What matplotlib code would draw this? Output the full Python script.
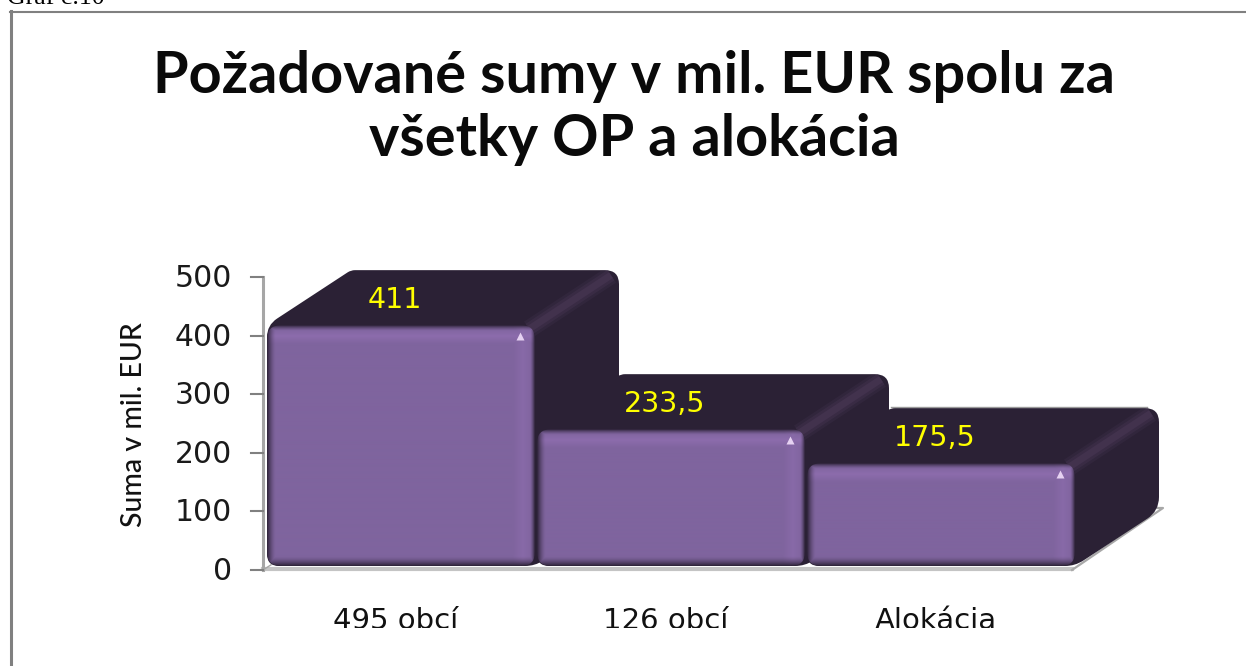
import numpy as np
import matplotlib
matplotlib.use("Agg")
import matplotlib.pyplot as plt
from matplotlib.path import Path
from matplotlib.patches import PathPatch, Rectangle

categories = ["495 obcí", "126 obcí", "Alokácia"]
values = [411, 233.5, 175.5]
value_labels = ["411", "233,5", "175,5"]
tick_values = [0, 100, 200, 300, 400, 500]
title_lines = ["Požadované sumy v mil. EUR spolu za", "všetky OP a alokácia"]
y_label = "Suma v mil. EUR"
caption = "Graf č.10"

# pixel scale of the chart (1 category = 270 px, 1 mil. EUR = 0.586 px)
W, H = 1246, 666
SX, SY = 270.0, 0.586
X0, Y0 = 401.0, 566.0
BAR_W = 268 / SX
DX, DY = 84 / SX, 55 / SY
AXIS_SHIFT = 4 / SY

FRONT = np.array([0x7f, 0x64, 0x9e]) / 255
LIGHT = np.array([0x8c, 0x6c, 0xac]) / 255
DARK = np.array([0x2b, 0x21, 0x35]) / 255
SIDE = "#2b2135"
RIDGE = "#463552"
GREY = "#808080"

fig = plt.figure(figsize=(W / 100, H / 100), dpi=100)
ax = fig.add_axes([0, 0, 1, 1])
ax.set_xlim(-X0 / SX, (W - X0) / SX)
ax.set_ylim((Y0 - H) / SY, Y0 / SY)
ax.axis("off")


def rounded(points, radii):
    # closed path with corners rounded, radii in pixels
    pts = np.array(points) * [SX, SY]
    verts, codes = [], []
    n = len(pts)
    for k in range(n):
        p, a, b = pts[k], pts[k - 1], pts[(k + 1) % n]
        p1 = p + (a - p) / np.linalg.norm(a - p) * radii[k]
        p2 = p + (b - p) / np.linalg.norm(b - p) * radii[k]
        verts += [p1, p, p2]
        codes += [Path.MOVETO if k == 0 else Path.LINETO, Path.CURVE3, Path.CURVE3]
    verts.append(verts[0])
    codes.append(Path.CLOSEPOLY)
    return Path(np.array(verts) / [SX, SY], codes)


def front_shade(w, h):
    xx, yy = np.meshgrid(np.arange(w) + 0.5, np.arange(h) + 0.5)
    img = np.ones((h, w, 3)) * FRONT
    # lighter band under the top edge and along the right edge
    top = np.clip(1 - np.abs(yy - 11) / 8, 0, 1)[..., None]
    right = (np.clip(1 - np.abs(w - xx - 12) / 10, 0, 1) * 0.7)[..., None]
    light = np.maximum(top, right)
    img = img * (1 - light) + LIGHT * light
    # dark rim
    rim = np.minimum.reduce([xx / 9, (w - xx) / 5, yy / 6, (h - yy) / 10])
    rim = (1 - np.clip(rim, 0, 1))[..., None] ** 1.6
    return img * (1 - rim) + DARK * rim


for i, v in enumerate(values):
    xl, xr = i - BAR_W / 2, i + BAR_W / 2
    # top + side silhouette
    outline = [(xl, v), (xl + DX, v + DY), (xr + DX, v + DY), (xr + DX, DY), (xr, 0), (xl, 0)]
    body = PathPatch(rounded(outline, [12, 4, 14, 14, 10, 12]), fc=SIDE, ec="none", zorder=3 + i)
    ax.add_patch(body)
    for lw, a in [(13, 0.25), (9, 0.4), (5, 0.7)]:
        ridge, = ax.plot([xr - 6 / SX, xr + DX - 8 / SX], [v - 4 / SY, v + DY - 5 / SY],
                         color=RIDGE, lw=lw, alpha=a, zorder=3 + i, solid_capstyle="butt")
        ridge.set_clip_path(body)
    # front face
    front = PathPatch(rounded([(xl, v), (xr, v), (xr, 0), (xl, 0)], [14] * 4), fc="none", ec="none", zorder=3 + i)
    ax.add_patch(front)
    im = ax.imshow(front_shade(int(BAR_W * SX), int(v * SY)), extent=[xl, xr, 0, v],
                   aspect="auto", origin="upper", zorder=3 + i, interpolation="bilinear")
    im.set_clip_path(front)
    ax.plot([xr - 15 / SX], [v - 11 / SY], marker="^", ms=5.5, color="#e6d2f2", mec="none", zorder=3.5 + i)
    ax.text(i - 6 / SX, v + 25 / SY, value_labels[i], color="#ffff00", fontsize=20.5,
            family="DejaVu Sans", ha="center", va="center", zorder=10)
    ax.text(i - 5 / SX, -63 / SY, categories[i], fontsize=21, family="DejaVu Sans", color="#111111",
            ha="center", va="baseline", zorder=2)

# thin grey edge behind the last bar
ax.plot([len(values) - 1 - BAR_W / 2 + DX, len(values) - 1 + BAR_W / 2 + DX - 12 / SX],
        [values[-1] + DY + 1 / SY] * 2, color="#9a9a9a", lw=1, zorder=2)

# floor and value axis
x_wall = -BAR_W / 2 - 4 / SX
x_end = len(values) - 1 + BAR_W / 2 - 3 / SX
ax.plot([x_wall, x_end], [-AXIS_SHIFT + 1 / SY] * 2, color="#c4c4c4", lw=3, zorder=2)
ax.plot([x_end, x_end + 91 / SX, x_end + 60 / SX], [-AXIS_SHIFT, -AXIS_SHIFT + 62 / SY, -AXIS_SHIFT + 62 / SY],
        color="#a8a8a8", lw=1.6, zorder=2)
ax.plot([x_wall, x_wall], [-AXIS_SHIFT, 500 - AXIS_SHIFT], color="#a6a6a6", lw=2.2, zorder=2)
ax.plot([x_wall, x_wall + 8 / SX], [-AXIS_SHIFT, 2], color="#a6a6a6", lw=1, zorder=2)
for t in tick_values:
    ax.plot([x_wall - 12 / SX, x_wall], [t - AXIS_SHIFT] * 2, color=GREY, lw=1.5, zorder=2)
    ax.text(x_wall - 31 / SX, t - AXIS_SHIFT - 1.5 / SY, str(t), fontsize=21.5, family="DejaVu Sans",
            color="#1a1a1a", ha="right", va="center")
ax.text(-267 / SX, 141 / SY, y_label, rotation=90, fontsize=20.5, family="Lato", weight="medium",
        ha="center", va="center", color="#111111")

# labels are cut off at the bottom in the source scan
ax.add_patch(Rectangle((-100 / SX, -200 / SY), 960 / SX, (200 - 62) / SY, fc="white", ec="none", zorder=2.5))

# frame
fig.add_artist(plt.Line2D([10.5 / W, 10.5 / W], [0, 1 - 11 / H], color=GREY, lw=2.2))
fig.add_artist(plt.Line2D([10 / W, 1], [1 - 11.5 / H] * 2, color=GREY, lw=1.5))

fig.text(634 / W, 1 - 93 / H, title_lines[0], fontsize=41.5, family="Lato", weight="bold",
         ha="center", va="baseline", color="#0a0a0a")
fig.text(634 / W, 1 - 156 / H, title_lines[1], fontsize=41.5, family="Lato", weight="bold",
         ha="center", va="baseline", color="#0a0a0a")
fig.text(7 / W, 1 - 4 / H, caption, fontsize=18.5, family="Liberation Serif", ha="left", va="baseline")

fig.savefig("out.png", dpi=100)
